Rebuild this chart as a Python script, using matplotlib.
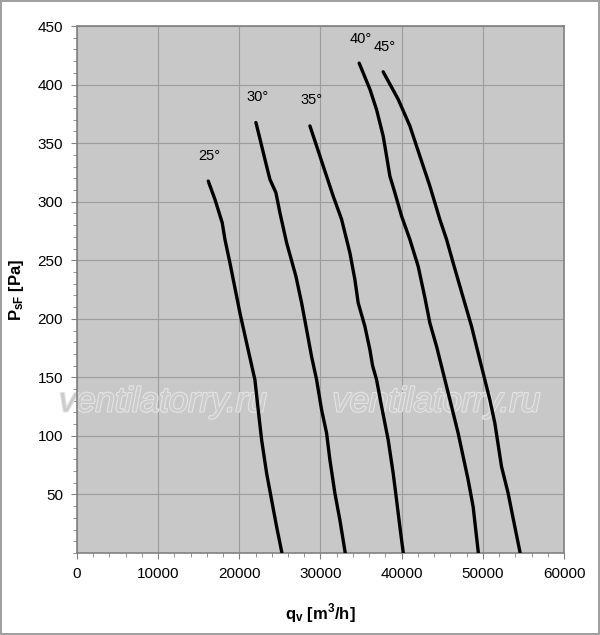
import matplotlib
matplotlib.use("Agg")
import matplotlib.pyplot as plt
import matplotlib.patheffects as pe
from matplotlib.ticker import MultipleLocator

plt.rcParams["font.family"] = ["Liberation Sans", "DejaVu Sans"]
plt.rcParams["mathtext.fontset"] = "custom"
plt.rcParams["mathtext.rm"] = "Liberation Sans"
plt.rcParams["mathtext.bf"] = "Liberation Sans:bold"

# fan curves: airflow q_v (m3/h) vs pressure P_sF (Pa)
q25 = [16170, 16995, 17894, 18227, 18842, 20074, 20899, 21638, 21921, 22328, 22746, 23362, 23978, 24594, 25250]
p25 = [317.6, 302, 282, 267.8, 247.8, 205, 179.4, 156.6, 148, 122.3, 96.7, 68.2, 45.3, 22.5, 0]

q30 = [22044, 22537, 23153, 23768, 24507, 25000, 25825, 26970, 27672, 28288, 28904, 29520, 30135, 30751, 31158, 31773, 32389, 33050]
p30 = [367.6, 353.8, 336.2, 319.1, 307.7, 290.6, 265, 236.4, 213.6, 190.8, 167.7, 148, 122.3, 102.4, 79.6, 51.1, 28.2, 0]

q35 = [28695, 29520, 30333, 31564, 32599, 33621, 34236, 34643, 35468, 36084, 36416, 36909, 37525, 38337, 38953, 39372, 39778, 40200]
p35 = [364.7, 347.6, 330.5, 304.8, 284.9, 256.4, 233.6, 213.6, 193.6, 173.7, 160, 148, 125.2, 96.7, 68.2, 45.3, 22.5, 0]

q40 = [34766, 36084, 36909, 37722, 38140, 38547, 39163, 39988, 41010, 42032, 42857, 43473, 44298, 44914, 45530, 46145, 46958, 47574, 48190, 48805, 49450]
p40 = [418.3, 396.1, 378.6, 356.1, 339, 321.9, 307.7, 287.7, 267.8, 244.9, 218.2, 196.5, 176.5, 159.4, 142.3, 125.2, 102.4, 82.4, 62.5, 39.6, 0]

q45 = [37722, 39569, 41010, 42241, 43473, 44704, 45530, 46342, 47574, 48608, 49421, 50246, 50862, 51478, 52303, 53116, 53941, 54600]
p45 = [410.9, 387.5, 364.7, 339, 313.4, 284.9, 267.8, 247.8, 218.2, 193.6, 170.8, 148, 130.9, 111, 73.8, 51.1, 22.5, 0]

curves = [(q25, p25), (q30, p30), (q35, p35), (q40, p40), (q45, p45)]
angle_labels = ["25°", "30°", "35°", "40°", "45°"]
label_q = [16300, 22200, 28850, 34900, 37850]
label_p = [339, 389, 386.7, 438.9, 432.3]

fig = plt.figure(figsize=(6, 6.35), dpi=100)
fig.patch.set_facecolor("white")
fig.patch.set_edgecolor("#a0a0a0")
fig.patch.set_linewidth(1.5)

ax = fig.add_axes([0.1283, 0.1291, 0.8117, 0.8299])
ax.set_facecolor("#c8c8c8")

for q, p in curves:
    ax.plot(q, p, color="black", lw=2.4, solid_capstyle="round", zorder=3)

for lab, x, y in zip(angle_labels, label_q, label_p):
    ax.text(x, y, lab, fontsize=10.5, ha="center", va="center", zorder=4)

# watermark
for x in [10600, 44300]:
    ax.text(x, 129, "ventilatorry.ru", fontsize=25, style="italic", color="#cbcbcb",
            ha="center", va="center", zorder=2,
            path_effects=[pe.withStroke(linewidth=1.6, foreground="#e4e4e4")])

ax.set_xlim(0, 60000)
ax.set_ylim(0, 450)
ax.xaxis.set_major_locator(MultipleLocator(10000))
ax.xaxis.set_minor_locator(MultipleLocator(2000))
ax.yaxis.set_major_locator(MultipleLocator(50))
ax.yaxis.set_minor_locator(MultipleLocator(10))
ax.set_yticks(range(50, 451, 50))
ax.grid(which="major", color="#9c9c9c", lw=0.8, zorder=1)
ax.set_axisbelow(True)

ax.tick_params(which="major", direction="out", length=4, color="#808080", labelsize=11, pad=6)
ax.tick_params(which="minor", direction="out", length=3, color="#808080")
for s in ax.spines.values():
    s.set_color("#808080")
    s.set_linewidth(1.2)

ax.set_xlabel(r"$\mathbf{q_v}$ [m$^\mathbf{3}$/h]", fontsize=12, fontweight="bold", labelpad=15)
ax.set_ylabel(r"$\mathbf{P_{sF}}$ [Pa]", fontsize=12, fontweight="bold", labelpad=8)

fig.savefig("out.png", dpi=100)
